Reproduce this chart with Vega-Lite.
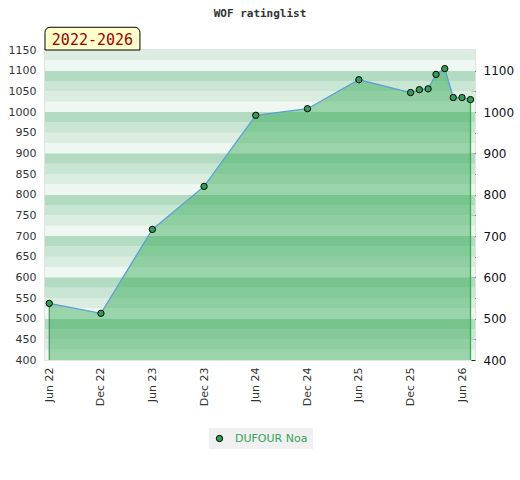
{
  "$schema": "https://vega.github.io/schema/vega-lite/v6.json",
  "autosize": {"type": "none"},
  "width": 430,
  "height": 310,
  "padding": {"left": 45, "top": 50, "right": 45, "bottom": 120},
  "background": "white",
  "title": {
    "text": "WOF ratinglist",
    "font": "DejaVu Sans Mono",
    "fontSize": 11,
    "fontWeight": "bold",
    "color": "#333333",
    "frame": "group",
    "anchor": "middle",
    "offset": 8
  },
  "config": {
    "view": {"stroke": "#d9d9d9", "strokeWidth": 1.5},
    "font": "DejaVu Sans"
  },
  "datasets": {
    "ratings": [
      {"date": "2022-06-01", "rating": 537, "player": "DUFOUR Noa"},
      {"date": "2022-12-01", "rating": 513, "player": "DUFOUR Noa"},
      {"date": "2023-06-01", "rating": 716, "player": "DUFOUR Noa"},
      {"date": "2023-12-01", "rating": 820, "player": "DUFOUR Noa"},
      {"date": "2024-06-01", "rating": 992, "player": "DUFOUR Noa"},
      {"date": "2024-12-01", "rating": 1008, "player": "DUFOUR Noa"},
      {"date": "2025-06-01", "rating": 1078, "player": "DUFOUR Noa"},
      {"date": "2025-12-01", "rating": 1047, "player": "DUFOUR Noa"},
      {"date": "2026-01-01", "rating": 1054, "player": "DUFOUR Noa"},
      {"date": "2026-02-01", "rating": 1056, "player": "DUFOUR Noa"},
      {"date": "2026-03-01", "rating": 1091, "player": "DUFOUR Noa"},
      {"date": "2026-04-01", "rating": 1105, "player": "DUFOUR Noa"},
      {"date": "2026-05-01", "rating": 1035, "player": "DUFOUR Noa"},
      {"date": "2026-06-01", "rating": 1035, "player": "DUFOUR Noa"},
      {"date": "2026-07-01", "rating": 1030, "player": "DUFOUR Noa"}
    ],
    "bands": [
      {"lo": 400, "hi": 425, "band": "a"},
      {"lo": 425, "hi": 450, "band": "b"},
      {"lo": 450, "hi": 475, "band": "c"},
      {"lo": 475, "hi": 500, "band": "d"},
      {"lo": 500, "hi": 525, "band": "a"},
      {"lo": 525, "hi": 550, "band": "b"},
      {"lo": 550, "hi": 575, "band": "c"},
      {"lo": 575, "hi": 600, "band": "d"},
      {"lo": 600, "hi": 625, "band": "a"},
      {"lo": 625, "hi": 650, "band": "b"},
      {"lo": 650, "hi": 675, "band": "c"},
      {"lo": 675, "hi": 700, "band": "d"},
      {"lo": 700, "hi": 725, "band": "a"},
      {"lo": 725, "hi": 750, "band": "b"},
      {"lo": 750, "hi": 775, "band": "c"},
      {"lo": 775, "hi": 800, "band": "d"},
      {"lo": 800, "hi": 825, "band": "a"},
      {"lo": 825, "hi": 850, "band": "b"},
      {"lo": 850, "hi": 875, "band": "c"},
      {"lo": 875, "hi": 900, "band": "d"},
      {"lo": 900, "hi": 925, "band": "a"},
      {"lo": 925, "hi": 950, "band": "b"},
      {"lo": 950, "hi": 975, "band": "c"},
      {"lo": 975, "hi": 1000, "band": "d"},
      {"lo": 1000, "hi": 1025, "band": "a"},
      {"lo": 1025, "hi": 1050, "band": "b"},
      {"lo": 1050, "hi": 1075, "band": "c"},
      {"lo": 1075, "hi": 1100, "band": "d"},
      {"lo": 1100, "hi": 1125, "band": "a"},
      {"lo": 1125, "hi": 1150, "band": "b"}
    ]
  },
  "layer": [
    {
      "data": {"name": "bands"},
      "mark": {"type": "rect"},
      "encoding": {
        "y": {
          "field": "lo",
          "type": "quantitative",
          "title": null,
          "scale": {"domain": [400, 1150], "nice": false, "zero": false},
          "axis": {
            "orient": "left",
            "values": [400, 450, 500, 550, 600, 650, 700, 750, 800, 850, 900, 950, 1000, 1050, 1100, 1150],
            "format": "d",
            "labelFontSize": 11,
            "labelColor": "#333333",
            "labelPadding": 9,
            "ticks": false,
            "domain": false,
            "grid": false
          }
        },
        "y2": {"field": "hi"},
        "fill": {
          "field": "band",
          "type": "nominal",
          "legend": null,
          "scale": {"domain": ["a", "b", "c", "d"], "range": ["#eef7f1", "#dbede1", "#c9e5d3", "#b3dbc2"]}
        }
      }
    },
    {
      "data": {"name": "ratings"},
      "mark": {"type": "area", "color": "#27a44b", "opacity": 0.42},
      "encoding": {
        "x": {
          "field": "date",
          "type": "temporal",
          "title": null,
          "scale": {
            "type": "utc",
            "domain": [1652745600000, 1784246400000]
          },
          "axis": {
            "values": [
              {"year": 2022, "month": 6, "date": 1, "utc": true},
              {"year": 2022, "month": 12, "date": 1, "utc": true},
              {"year": 2023, "month": 6, "date": 1, "utc": true},
              {"year": 2023, "month": 12, "date": 1, "utc": true},
              {"year": 2024, "month": 6, "date": 1, "utc": true},
              {"year": 2024, "month": 12, "date": 1, "utc": true},
              {"year": 2025, "month": 6, "date": 1, "utc": true},
              {"year": 2025, "month": 12, "date": 1, "utc": true},
              {"year": 2026, "month": 6, "date": 1, "utc": true}
            ],
            "format": "%b %y",
            "labelAngle": 270,
            "labelFontSize": 11,
            "labelColor": "#333333",
            "labelPadding": 7,
            "ticks": false,
            "domain": false,
            "grid": false
          }
        },
        "y": {
          "field": "rating",
          "type": "quantitative",
          "axis": {
            "orient": "right",
            "values": [400, 450, 500, 550, 600, 650, 700, 750, 800, 850, 900, 950, 1000, 1050, 1100],
            "labelExpr": "datum.value % 100 == 0 ? format(datum.value, 'd') : ''",
            "labelFontSize": 12,
            "labelColor": "#111111",
            "labelPadding": 8,
            "offset": -4,
            "tickSize": 4,
            "tickColor": "#222222",
            "domain": false,
            "grid": false,
            "title": null
          }
        },
        "y2": {"datum": 400}
      }
    },
    {
      "data": {"name": "ratings"},
      "mark": {"type": "line", "color": "#5a9fd8", "strokeWidth": 1.3},
      "encoding": {
        "x": {"field": "date", "type": "temporal"},
        "y": {"field": "rating", "type": "quantitative", "axis": null}
      }
    },
    {
      "data": {"name": "ratings"},
      "transform": [{"filter": {"field": "rating", "equal": 537}}],
      "mark": {"type": "rule", "color": "#3b7d4f", "strokeWidth": 1},
      "encoding": {
        "x": {"field": "date", "type": "temporal"},
        "y": {"field": "rating", "type": "quantitative", "axis": null},
        "y2": {"datum": 400}
      }
    },
    {
      "data": {"name": "ratings"},
      "transform": [{"filter": {"field": "rating", "equal": 1030}}],
      "mark": {"type": "rule", "color": "#2db34a", "strokeWidth": 1.3},
      "encoding": {
        "x": {"field": "date", "type": "temporal"},
        "y": {"field": "rating", "type": "quantitative", "axis": null},
        "y2": {"datum": 400}
      }
    },
    {
      "data": {"name": "ratings"},
      "mark": {"type": "point", "filled": true, "size": 40, "stroke": "black", "strokeWidth": 1, "opacity": 1},
      "encoding": {
        "x": {"field": "date", "type": "temporal"},
        "y": {"field": "rating", "type": "quantitative", "axis": null},
        "color": {
          "field": "player",
          "type": "nominal",
          "scale": {"range": ["#2f9e57"]},
          "legend": {
            "orient": "none",
            "legendX": 164,
            "legendY": 378,
            "title": null,
            "direction": "horizontal",
            "fillColor": "#f0f0f0",
            "padding": 5,
            "labelColor": "#33a35a",
            "labelFontSize": 11,
            "labelFont": "DejaVu Sans",
            "labelOffset": 10,
            "symbolType": "circle",
            "symbolSize": 40,
            "symbolStrokeColor": "black",
            "symbolStrokeWidth": 1,
            "symbolOpacity": 1
          }
        }
      }
    },
    {
      "data": {"values": [{"label": "2022-2026"}]},
      "mark": {"type": "rect", "clip": false, "fill": "#ffffcc", "stroke": "black", "strokeWidth": 1, "cornerRadiusTopLeft": 5, "cornerRadiusTopRight": 5},
      "encoding": {
        "x": {"datum": 1652745600000, "type": "temporal"},
        "x2": {"datum": 1681776000000},
        "y": {"datum": 1150, "type": "quantitative", "axis": null},
        "y2": {"datum": 1205}
      }
    },
    {
      "data": {"values": [{"label": "2022-2026"}]},
      "mark": {"type": "text", "clip": false, "color": "#990000", "font": "DejaVu Sans Mono", "fontSize": 15, "align": "center", "baseline": "middle"},
      "encoding": {
        "x": {"datum": 1667260800000, "type": "temporal"},
        "y": {"datum": 1175, "type": "quantitative", "axis": null},
        "text": {"field": "label"}
      }
    }
  ],
  "resolve": {"axis": {"y": "independent"}}
}
